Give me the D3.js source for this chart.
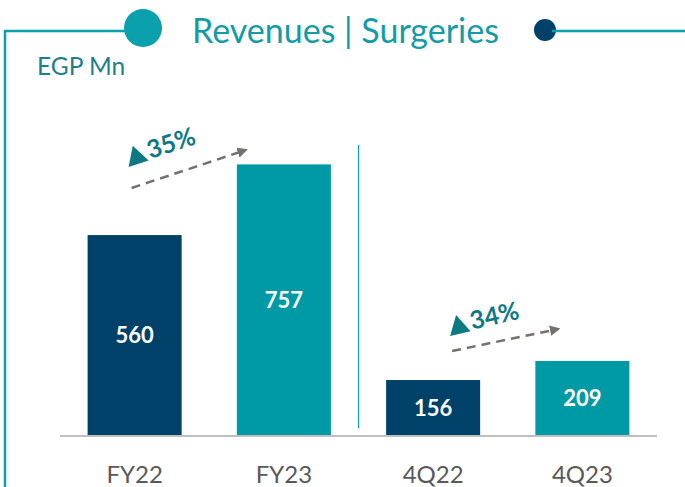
<!DOCTYPE html>
<html>
<head>
<meta charset="utf-8">
<script src="https://cdn.jsdelivr.net/npm/d3@7"></script>
<style>
  html, body { margin: 0; padding: 0; background: #ffffff; }
  svg { display: block; font-family: Lato, "Open Sans", sans-serif; }
</style>
</head>
<body>
<svg id="chart" width="685" height="487"></svg>
<script>
// Surgeries revenue, EGP Mn
const categories = ["FY22", "FY23", "4Q22", "4Q23"];
const values = [560, 757, 156, 209];
const barColors = ["#00416a", "#009aa6", "#00416a", "#009aa6"];

// Year-on-year growth callouts (from -> to)
const growthFrom = ["FY22", "4Q22"];
const growthTo = ["FY23", "4Q23"];
const growthLabels = ["35%", "34%"];

const title = "Revenues | Surgeries";
const unitLabel = "EGP Mn";

const W = 685, H = 487;
const svg = d3.select("#chart");

const x = d3.scaleBand()
  .domain(categories)
  .range([60, 657])
  .paddingInner(0.37)
  .paddingOuter(0.185);

const y = d3.scaleLinear()
  .domain([0, 1000])
  .range([436, 436 - 1000 * 0.3588]);

// Frame decoration: left rule, top rule with circles, title
const teal = "#0aa0ad";
svg.append("line").attr("x1", 5).attr("x2", 5).attr("y1", 30).attr("y2", H)
  .attr("stroke", teal).attr("stroke-width", 2.5);
svg.append("line").attr("x1", 4).attr("x2", 128).attr("y1", 31).attr("y2", 31)
  .attr("stroke", teal).attr("stroke-width", 2.5);
svg.append("circle").attr("cx", 143).attr("cy", 28).attr("r", 19).attr("fill", teal);
svg.append("circle").attr("cx", 545).attr("cy", 30).attr("r", 11).attr("fill", "#00416a");
svg.append("line").attr("x1", 552).attr("x2", W).attr("y1", 31).attr("y2", 31)
  .attr("stroke", teal).attr("stroke-width", 2.5);

svg.append("text").attr("x", 192).attr("y", 42.5)
  .attr("fill", "#139ba6").attr("font-size", 34)
  .text(title);

svg.append("text").attr("x", 37).attr("y", 75)
  .attr("fill", "#1c7f8a").attr("font-size", 24.5)
  .text(unitLabel);

// Separator between annual and quarterly groups
const sepX = (x("FY23") + x.bandwidth() + x("4Q22")) / 2;
svg.append("line").attr("x1", sepX).attr("x2", sepX).attr("y1", 145).attr("y2", 428)
  .attr("stroke", teal).attr("stroke-width", 1.2);

// Bars
svg.append("g").selectAll("rect")
  .data(values)
  .join("rect")
  .attr("x", (d, i) => x(categories[i]))
  .attr("y", d => y(d))
  .attr("width", x.bandwidth())
  .attr("height", d => y(0) - y(d))
  .attr("fill", (d, i) => barColors[i]);

// Value labels centred inside bars
svg.append("g").selectAll("text")
  .data(values)
  .join("text")
  .attr("x", (d, i) => x(categories[i]) + x.bandwidth() / 2)
  .attr("y", d => (y(d) + y(0)) / 2)
  .attr("dy", "0.36em")
  .attr("text-anchor", "middle")
  .attr("fill", "#ffffff")
  .attr("font-weight", "bold")
  .attr("font-size", 22)
  .text(d => d);

// Baseline
svg.append("line").attr("x1", 60).attr("x2", 657).attr("y1", 436).attr("y2", 436)
  .attr("stroke", "#bfbfbf").attr("stroke-width", 2);

// Category axis
const xAxis = svg.append("g")
  .attr("transform", "translate(0,436)")
  .call(d3.axisBottom(x).tickSize(0).tickPadding(0));
xAxis.select(".domain").remove();
xAxis.selectAll("text")
  .attr("fill", "#595959")
  .attr("font-size", 24)
  .attr("font-family", "Lato, 'Open Sans', sans-serif")
  .attr("y", 47)
  .attr("dy", null);

// Growth callouts: dashed arrow + triangle + percentage
const defs = svg.append("defs");
defs.append("marker")
  .attr("id", "arrowHead")
  .attr("viewBox", "0 0 10 10")
  .attr("refX", 8).attr("refY", 5)
  .attr("markerWidth", 4.2).attr("markerHeight", 4.2)
  .attr("markerUnits", "strokeWidth")
  .attr("orient", "auto")
  .append("path").attr("d", "M0,0 L10,5 L0,10 Z").attr("fill", "#767171");

// layout per callout: arrow start/end offsets and label anchor
const calloutLayout = [
  { sx: -3, sy: 188, ex: 9, ey: 150, tx: -6, ty: 167, rot: -18 },
  { sx: 19, sy: 351, ex: 23, ey: 329, tx: 17, ty: 336, rot: -13 }
];

growthLabels.forEach((lab, i) => {
  const L = calloutLayout[i];
  const x0 = x(growthFrom[i]) + x.bandwidth() / 2 + L.sx;
  const x1 = x(growthTo[i]) + L.ex;
  svg.append("line")
    .attr("x1", x0).attr("y1", L.sy)
    .attr("x2", x1).attr("y2", L.ey)
    .attr("stroke", "#767171").attr("stroke-width", 2.5)
    .attr("stroke-dasharray", "9,6")
    .attr("marker-end", "url(#arrowHead)");

  const g = svg.append("g")
    .attr("transform", `translate(${x(growthFrom[i]) + x.bandwidth() / 2 + L.tx},${L.ty}) rotate(${L.rot})`);
  g.append("path").attr("d", "M0,0 L21,0 L10.5,-19 Z").attr("fill", "#0d7a83");
  g.append("text").attr("x", 23).attr("y", -1)
    .attr("fill", "#0d7a83").attr("font-weight", "bold").attr("font-size", 25)
    .text(lab);
});
</script>
</body>
</html>
